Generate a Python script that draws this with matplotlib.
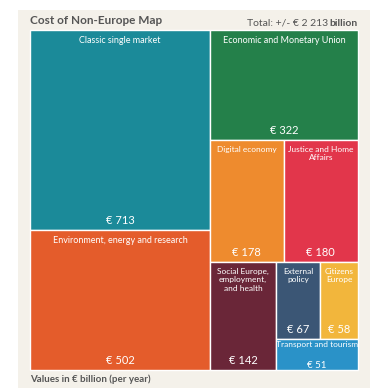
import matplotlib.pyplot as plt
from matplotlib.patches import Rectangle

# data
names = ["Classic single market", "Environment, energy and research",
         "Economic and Monetary Union", "Digital economy", "Justice and Home\nAffairs",
         "Social Europe,\nemployment,\nand health", "External\npolicy", "Citizens\nEurope",
         "Transport and tourism"]
values = [713, 502, 322, 178, 180, 142, 67, 58, 51]
colors = ["#1b8a99", "#e45c2b", "#24804a", "#ee8b2e", "#e2364b",
          "#6a2638", "#3b5675", "#f2b63c", "#2a92c8"]

plt.rcParams['font.family'] = ['Lato', 'DejaVu Sans']

fig = plt.figure(figsize=(3.7, 3.88), dpi=100)
ax = fig.add_axes([0, 0, 1, 1])
ax.set_xlim(0, 370)
ax.set_ylim(388, 0)
ax.axis("off")
fig.patch.set_facecolor("white")
ax.add_patch(Rectangle((18, 10), 352, 378, facecolor="#f4f1ea", edgecolor="none"))

X0, X1, Y0, Y1 = 30, 358, 30, 370


def vsplit(x, y, w, h, vals):
    # stack vertically
    s = sum(vals)
    out = []
    for v in vals:
        hh = h * v / s
        out.append((x, y, w, hh))
        y += hh
    return out


def hsplit(x, y, w, h, vals):
    s = sum(vals)
    out = []
    for v in vals:
        ww = w * v / s
        out.append((x, y, ww, h))
        x += ww
    return out


W, H = X1 - X0, Y1 - Y0
left, right = hsplit(X0, Y0, W, H, [values[0] + values[1], sum(values[2:])])
r = vsplit(*left, values[0:2])
top, mid, bot = vsplit(*right, [values[2], values[3] + values[4], sum(values[5:])])
r.append(top)
r += hsplit(*mid, values[3:5])
soc, rest = hsplit(*bot, [values[5], sum(values[6:])])
r.append(soc)
upper, lower = vsplit(*rest, [values[6] + values[7], values[8]])
r += hsplit(*upper, values[6:8])
r.append(lower)

for i, (x, y, w, h) in enumerate(r):
    ax.add_patch(Rectangle((x, y), w, h, facecolor=colors[i], edgecolor="white", lw=1))
    fs = 6.5 if i < 3 else 6
    if i == 8:
        ax.text(x + w / 2, y + 6, names[i], ha="center", va="center", color="white", fontsize=fs)
        ax.text(x + w / 2, y + h - 5, "€ %d" % values[i], ha="center", va="center",
                color="white", fontsize=7)
        continue
    ax.text(x + w / 2, y + 6, names[i], ha="center", va="top", color="white", fontsize=fs,
            linespacing=1.25)
    ax.text(x + w / 2, y + h - 4, "€ %d" % values[i], ha="center", va="bottom",
            color="white", fontsize=8)

ax.text(30, 26, "Cost of Non-Europe Map", fontsize=8.5, fontweight="bold", color="#555555",
        ha="left", va="bottom")
b = ax.text(358, 28, "billion", fontsize=7.5, fontweight="bold", color="#555555", ha="right",
            va="bottom")
fig.canvas.draw()
bb = b.get_window_extent()
xb = ax.transData.inverted().transform((bb.x0, bb.y0))[0]
ax.text(xb - 1.5, 28, "Total: +/- € 2 213", fontsize=7.5, color="#555555", ha="right",
        va="bottom")
ax.text(30, 374, "Values in € billion (per year)", fontsize=7, fontweight="bold",
        color="#555555", ha="left", va="top")

fig.savefig("out.png", dpi=100)
